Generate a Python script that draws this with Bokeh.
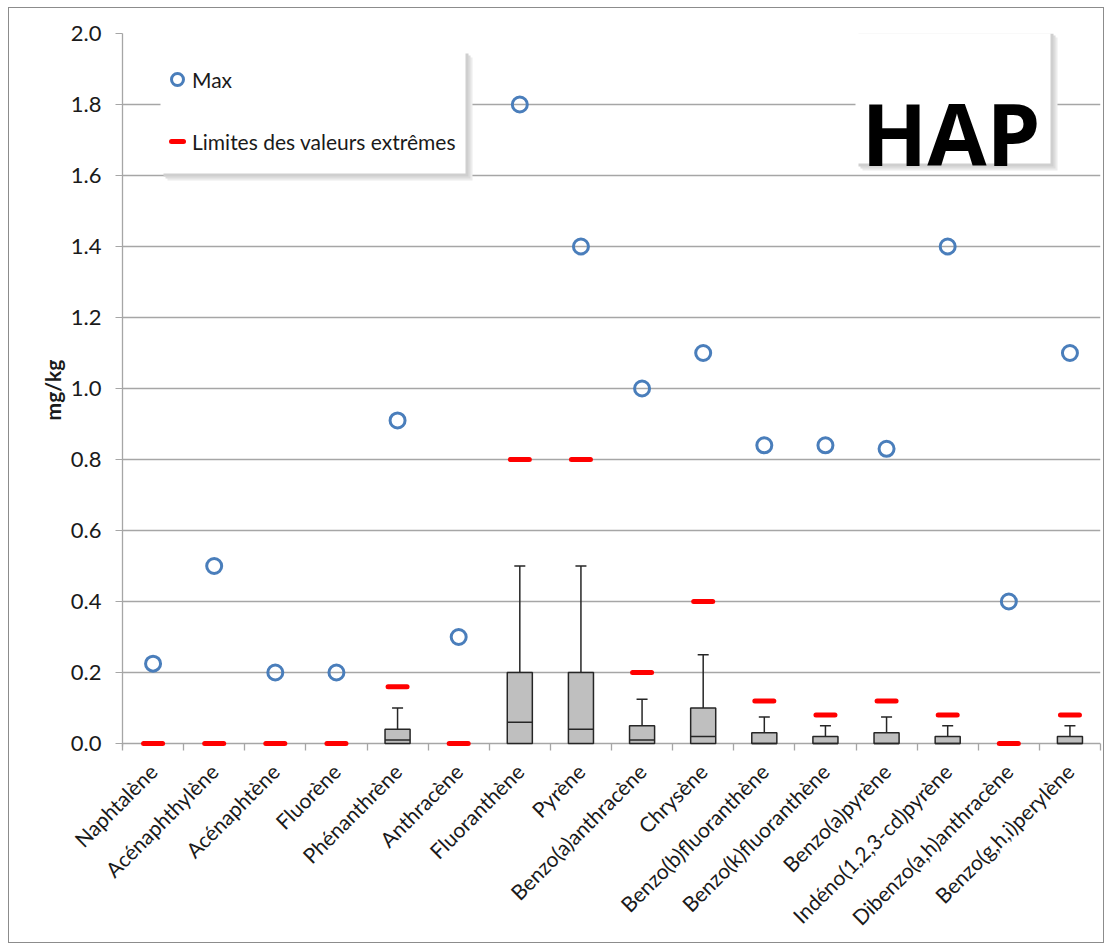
import math
from bokeh.plotting import figure
from bokeh.models import (Range1d, FixedTicker, Legend, LegendItem, Label,
                          NumeralTickFormatter, ColumnDataSource)
from bokeh.embed import file_html
from bokeh.resources import INLINE

# ---------------- data ----------------
categories = ["Naphtalène", "Acénaphthylène", "Acénaphtène", "Fluorène",
              "Phénanthrène", "Anthracène", "Fluoranthène", "Pyrène",
              "Benzo(a)anthracène", "Chrysène", "Benzo(b)fluoranthène",
              "Benzo(k)fluoranthène", "Benzo(a)pyrène", "Indéno(1,2,3-cd)pyrène",
              "Dibenzo(a,h)anthracène", "Benzo(g,h,i)perylène"]
max_values = [0.225, 0.50, 0.20, 0.20, 0.91, 0.30, 1.80, 1.40,
              1.00, 1.10, 0.84, 0.84, 0.83, 1.40, 0.40, 1.10]
limit_values = [0.0, 0.0, 0.0, 0.0, 0.16, 0.0, 0.80, 0.80,
                0.20, 0.40, 0.12, 0.08, 0.12, 0.08, 0.0, 0.08]
q1_values = [None, None, None, None, 0.0, None, 0.0, 0.0,
             0.0, 0.0, 0.0, 0.0, 0.0, 0.0, None, 0.0]
median_values = [None, None, None, None, 0.01, None, 0.06, 0.04,
                 0.01, 0.02, 0.0, 0.0, 0.0, 0.0, None, 0.0]
q3_values = [None, None, None, None, 0.04, None, 0.20, 0.20,
             0.05, 0.10, 0.03, 0.02, 0.03, 0.02, None, 0.02]
whisker_values = [None, None, None, None, 0.10, None, 0.50, 0.50,
                  0.125, 0.25, 0.075, 0.05, 0.075, 0.05, None, 0.05]
y_ticks = [0.0, 0.2, 0.4, 0.6, 0.8, 1.0, 1.2, 1.4, 1.6, 1.8, 2.0]
y_title = "mg/kg"
chart_badge = "HAP"
legend_max = "Max"
legend_limits = "Limites des valeurs extrêmes"

# ---------------- style ----------------
BLUE = "#4a7ebb"
RED = "#ff0000"
GRID = "#a6a6a6"
BOX_FILL = "#bfbfbf"
BOX_LINE = "#262626"
TEXT = "#1a1a1a"
FONT = "Lato"

# page placement (absolute px of the reference picture)
OX, OY = 8, 7            # outer frame position
BORDER = 1
W, H = 1096, 936
ZERO_PAD = 3             # px below the zero line so marks at 0 are not clipped
FRAME_L, FRAME_T, FRAME_R, ZERO_Y = 122, 33, 1100, 743
FRAME_B = ZERO_Y + ZERO_PAD
ML = FRAME_L - OX - BORDER
MT = FRAME_T - OY - BORDER
MR = OX + BORDER + W - FRAME_R
MB = OY + BORDER + H - FRAME_B
FW = FRAME_R - FRAME_L
N = len(categories)
YMAX = 2.0
PX_PER_UNIT_Y = (ZERO_Y - FRAME_T) / YMAX
YMIN = -ZERO_PAD / PX_PER_UNIT_Y


def dx(px):
    return (px - FRAME_L) / FW * N


def dy(py):
    return (ZERO_Y - py) / PX_PER_UNIT_Y


p = figure(width=W, height=H, x_range=Range1d(0, N), y_range=Range1d(YMIN, YMAX),
           output_backend="svg", toolbar_location=None,
           min_border_left=ML, min_border_right=MR, min_border_top=MT,
           min_border_bottom=MB,
           styles={"border": "1px solid #8c8c8c",
                   "margin-left": f"{OX}px", "margin-top": f"{OY}px"})
p.outline_line_color = None
p.background_fill_color = "white"
p.border_fill_color = "white"

# grid
p.xgrid.grid_line_color = None
p.ygrid.ticker = FixedTicker(ticks=y_ticks)
p.ygrid.grid_line_color = GRID
p.ygrid.grid_line_width = 1.3

# y axis
p.yaxis.ticker = FixedTicker(ticks=y_ticks)
p.yaxis.formatter = NumeralTickFormatter(format="0.0")
p.yaxis.axis_line_color = GRID
p.yaxis.axis_line_width = 1.3
p.yaxis.major_tick_line_color = GRID
p.yaxis.major_tick_out = 7
p.yaxis.major_tick_in = 0
p.yaxis.minor_tick_line_color = None
p.yaxis.major_label_text_font = FONT
p.yaxis.major_label_text_font_size = "22px"
p.yaxis.major_label_text_color = TEXT
p.yaxis.major_label_standoff = 14
p.yaxis.axis_label = y_title
p.yaxis.axis_label_text_font = FONT
p.yaxis.axis_label_text_font_style = "bold"
p.yaxis.axis_label_text_font_size = "21px"
p.yaxis.axis_label_text_color = TEXT
p.yaxis.axis_label_standoff = 3

# x axis
centers = [i + 0.5 for i in range(N)]
p.xaxis.ticker = FixedTicker(ticks=centers, minor_ticks=list(range(N + 1)))
p.xaxis.major_label_overrides = {c: name for c, name in zip(centers, categories)}
p.xaxis.axis_line_color = None
p.xaxis.major_tick_line_color = None
p.xaxis.minor_tick_line_color = GRID
p.xaxis.minor_tick_line_width = 1.3
p.xaxis.minor_tick_in = ZERO_PAD
p.xaxis.minor_tick_out = 4
p.xaxis.major_label_orientation = math.pi / 4
p.xaxis.major_label_text_font = FONT
p.xaxis.major_label_text_font_size = "21px"
p.xaxis.major_label_text_color = TEXT
p.xaxis.major_label_standoff = 15

# legend / badge panels (soft shadow + white box)
for off, col in ((7, "#ececec"), (5, "#dcdcdc"), (3, "#cfcfcf")):
    p.quad(left=[dx(160 + off)], right=[dx(465 + off)], top=[dy(50 + off)],
           bottom=[dy(173 + off)], fill_color=col, line_color=None)
    p.quad(left=[dx(855 + off)], right=[dx(1050 + off)], top=[dy(30 + off)],
           bottom=[dy(163 + off)], fill_color=col, line_color=None)
p.quad(left=[dx(160)], right=[dx(465)], top=[dy(50)], bottom=[dy(173)],
       fill_color="white", line_color=None)
p.quad(left=[dx(855)], right=[dx(1050)], top=[dy(30)], bottom=[dy(163)],
       fill_color="white", line_color=None)

# box plots
idx = [i for i in range(N) if q3_values[i] is not None]
bsrc = ColumnDataSource(dict(
    x=[centers[i] for i in idx],
    left=[centers[i] - 0.205 for i in idx],
    right=[centers[i] + 0.205 for i in idx],
    cl=[centers[i] - 0.09 for i in idx],
    cr=[centers[i] + 0.09 for i in idx],
    q1=[q1_values[i] for i in idx],
    med=[median_values[i] for i in idx],
    q3=[q3_values[i] for i in idx],
    wh=[whisker_values[i] for i in idx],
))
p.segment(x0="x", y0="q3", x1="x", y1="wh", source=bsrc,
          line_color=BOX_LINE, line_width=1.5)
p.segment(x0="cl", y0="wh", x1="cr", y1="wh", source=bsrc,
          line_color=BOX_LINE, line_width=1.5)
p.quad(left="left", right="right", bottom="q1", top="q3", source=bsrc,
       fill_color=BOX_FILL, line_color=BOX_LINE, line_width=1.5)
p.segment(x0="left", y0="med", x1="right", y1="med", source=bsrc,
          line_color=BOX_LINE, line_width=1.5)

# limits and max
dash_r = p.scatter(x=centers, y=limit_values, marker="dash", size=19,
                   line_color=RED, line_width=5, line_cap="round")
circ_r = p.scatter(x=centers, y=max_values, marker="circle", size=15,
                   line_color=BLUE, line_width=3, fill_color=None)

legend = Legend(items=[LegendItem(label=legend_max, renderers=[circ_r]),
                       LegendItem(label=legend_limits, renderers=[dash_r])],
                location=(162 - FRAME_L, FRAME_B - 163),
                orientation="vertical",
                glyph_width=30, glyph_height=44, label_height=44,
                label_standoff=0, padding=5, spacing=18, margin=0,
                label_text_font=FONT, label_text_font_size="21px",
                label_text_color=TEXT,
                background_fill_alpha=0.0,
                border_line_color=None)
p.add_layout(legend)

badge = Label(x=dx(950.5), y=dy(132), text=chart_badge,
              text_font="Open Sans", text_font_style="bold",
              text_font_size="86px", text_color="#000000",
              text_align="center", text_baseline="alphabetic")
p.add_layout(badge)

open("out.html", "w").write(file_html(p, INLINE))
